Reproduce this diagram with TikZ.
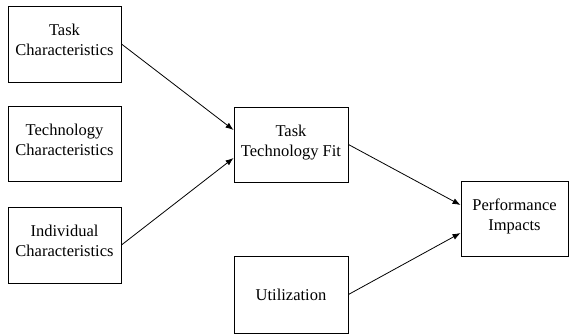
\documentclass[tikz,border=0pt]{standalone}
\usepackage{fontspec}
\setmainfont{Liberation Serif}
\usetikzlibrary{arrows.meta}
\begin{document}
\begin{tikzpicture}[x=1pt,y=-1pt,
  box/.style={draw=black,line width=0.9pt,fill=white,align=center,
    font=\fontsize{16.5}{20}\selectfont,inner sep=0pt},
  link/.style={line width=0.8pt,-{Latex[length=8pt,width=6pt]}}]
  \useasboundingbox (0,0) rectangle (569,334);
  % left column: the three characteristics
  \node[box,minimum width=113pt,minimum height=76pt] (task) at (64.5,44)
    {Task\\Characteristics\rule[-8pt]{0pt}{0pt}};
  \node[box,minimum width=113pt,minimum height=75pt] (tech) at (64.5,143.5)
    {Technology\\Characteristics\rule[-8pt]{0pt}{0pt}};
  \node[box,minimum width=113pt,minimum height=76pt] (indiv) at (64.5,245)
    {Individual\\Characteristics\rule[-8pt]{0pt}{0pt}};
  % middle column
  \node[box,minimum width=114pt,minimum height=75pt] (ttf) at (291,144.5)
    {Task\\Technology Fit\rule[-8pt]{0pt}{0pt}};
  \node[box,minimum width=114pt,minimum height=77pt] (util) at (291,294.5)
    {Utilization};
  % right column
  \node[box,minimum width=107pt,minimum height=75pt] (perf) at (514.5,218.5)
    {Performance\\Impacts\rule[-8pt]{0pt}{0pt}};
  % connectors
  \draw[link] (task.east) -- ([yshift=14.5pt]ttf.west);
  \draw[link] (indiv.east) -- ([yshift=-13.5pt]ttf.west);
  \draw[link] (ttf.east) -- ([yshift=13.5pt]perf.west);
  \draw[link] (util.east) -- ([yshift=-14.5pt]perf.west);
\end{tikzpicture}
\end{document}
